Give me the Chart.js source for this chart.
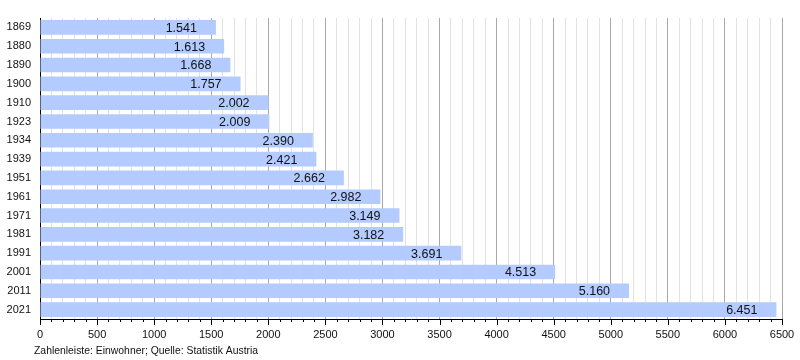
<!DOCTYPE html>
<html><head><meta charset="utf-8">
<script src="https://cdn.jsdelivr.net/npm/chart.js@4/dist/chart.umd.min.js"></script>
<style>html,body{margin:0;padding:0;background:#fff}canvas{display:block}</style>
</head><body>
<canvas id="c" width="800" height="360"></canvas>
<script>
const years = ['1869','1880','1890','1900','1910','1923','1934','1939','1951','1961','1971','1981','1991','2001','2011','2021'];
const population = [1541,1613,1668,1757,2002,2009,2390,2421,2662,2982,3149,3182,3691,4513,5160,6451];
const caption = 'Zahlenleiste: Einwohner; Quelle: Statistik Austria';
const FONT = '"Liberation Sans", Arial, sans-serif';

function fmt(v){ return String(v).replace(/\B(?=(\d{3})+(?!\d))/g,'.'); }

const extras = {
  id:'extras',
  afterDraw(chart){
    const ctx = chart.ctx, xs = chart.scales.x, ca = chart.chartArea;
    ctx.save();
    ctx.strokeStyle = '#000'; ctx.lineWidth = 1;
    for (let v = 0; v <= 6500; v += 100) {
      const x = Math.round(xs.getPixelForValue(v)) + 0.5;
      const len = v % 500 === 0 ? 6 : 3;
      ctx.beginPath(); ctx.moveTo(x, ca.bottom); ctx.lineTo(x, ca.bottom + len); ctx.stroke();
    }
    const meta = chart.getDatasetMeta(0);
    ctx.fillStyle = '#111'; ctx.font = '12.5px ' + FONT;
    ctx.textAlign = 'right'; ctx.textBaseline = 'middle';
    meta.data.forEach((bar, i) => {
      ctx.fillText(fmt(population[i]), bar.x - 19, bar.y + 1);
    });
    ctx.textAlign = 'left'; ctx.textBaseline = 'alphabetic';
    ctx.font = '10.4px ' + FONT; ctx.fillStyle = '#111';
    ctx.fillText(caption, 34, 354);
    ctx.restore();
  }
};

new Chart(document.getElementById('c'), {
  type: 'bar',
  data: { labels: years, datasets: [{ data: population, backgroundColor: '#b3cbff', borderWidth: 0, categoryPercentage: 0.78, barPercentage: 1 }] },
  options: {
    indexAxis: 'y', responsive: false, animation: false,
    layout: { padding: { top: 18, right: 18, left: 0, bottom: 0 } },
    plugins: { legend: { display: false }, tooltip: { enabled: false } },
    scales: {
      x: {
        min: 0, max: 6500,
        afterFit(s){ s.height = 41; s.paddingRight = 0; s.paddingLeft = 0; },
        ticks: { stepSize: 100, autoSkip: false, maxRotation: 0, padding: 9, color: '#111',
          font: { family: FONT, size: 11 },
          callback: v => (v % 500 === 0 ? String(v) : '') },
        grid: { drawTicks: false, color: c => (c.tick && c.tick.value % 500 === 0 ? '#a8a8a8' : '#e2e2e2') },
        border: { display: true, color: '#000', width: 1 }
      },
      y: {
        afterFit(s){ s.width = 40; },
        ticks: { color: '#111', font: { family: FONT, size: 11 }, padding: 9 },
        grid: { display: false, drawTicks: false },
        border: { display: true, color: '#000', width: 1 }
      }
    }
  },
  plugins: [extras]
});
</script>
</body></html>
